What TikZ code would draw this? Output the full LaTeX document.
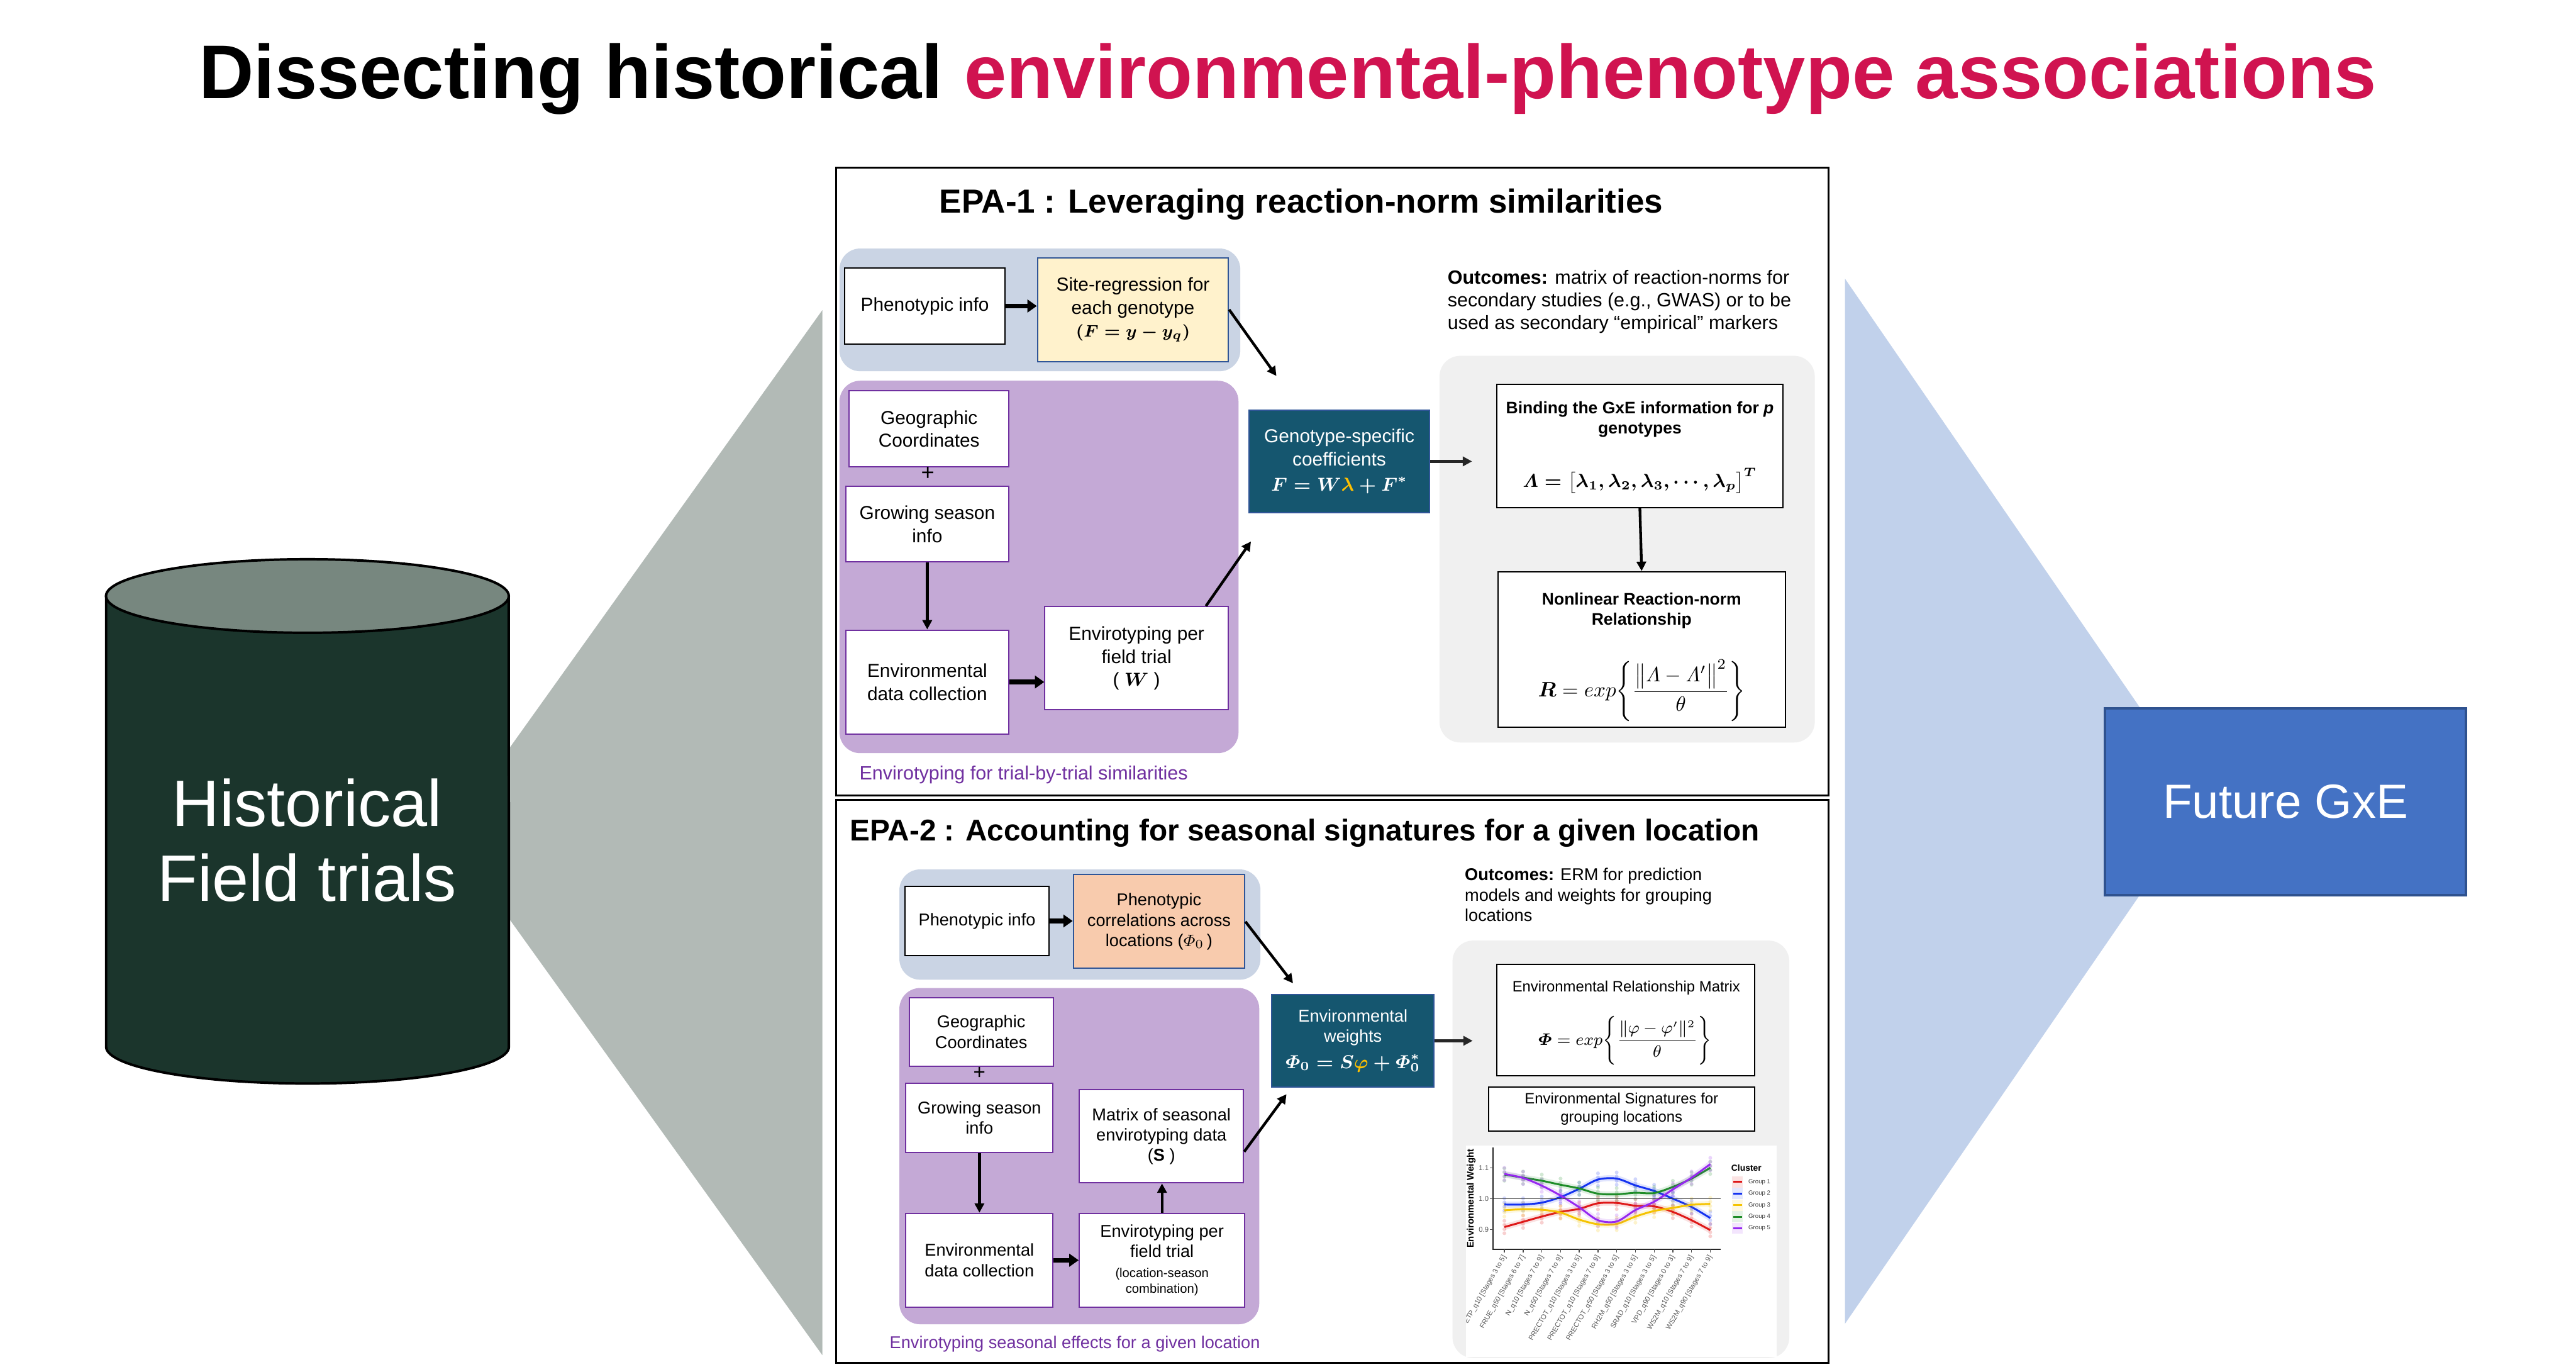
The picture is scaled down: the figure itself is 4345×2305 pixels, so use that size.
\documentclass[tikz,border=0pt]{standalone}
\usepackage{fontspec}
\usepackage{amsmath,amssymb}
\newfontfamily\arial{Liberation Sans}
\usetikzlibrary{arrows.meta,positioning}
\ifdefined\varLambda\else\DeclareMathSymbol{\varLambda}{\mathord}{letters}{"03}\fi
\ifdefined\varPhi\else\DeclareMathSymbol{\varPhi}{\mathord}{letters}{"08}\fi

\definecolor{titlered}{RGB}{208,19,80}
\definecolor{cylbody}{RGB}{27,53,44}
\definecolor{cyltop}{RGB}{119,135,127}
\definecolor{trigray}{RGB}{178,186,182}
\definecolor{triblue}{RGB}{193,209,235}
\definecolor{futblue}{RGB}{68,114,196}
\definecolor{futline}{RGB}{47,82,143}
\definecolor{phenobg}{RGB}{202,212,228}
\definecolor{envbg}{RGB}{196,169,214}
\definecolor{envline}{RGB}{112,48,160}
\definecolor{outbg}{RGB}{240,240,240}
\definecolor{siteyel}{RGB}{255,242,204}
\definecolor{corrpeach}{RGB}{248,203,173}
\definecolor{boxline}{RGB}{47,85,151}
\definecolor{tealbox}{RGB}{21,86,111}
\definecolor{lamgold}{RGB}{255,192,0}
\definecolor{grpA}{RGB}{222,24,24}
\definecolor{grpB}{RGB}{20,50,240}
\definecolor{grpC}{RGB}{245,195,0}
\definecolor{grpD}{RGB}{30,140,40}
\definecolor{grpE}{RGB}{150,40,240}

\begin{document}
\begin{tikzpicture}[
  x=0.01cm, y=-0.01cm,
  sz/.style 2 args={minimum width=#1, minimum height=#2},
  txt/.style={font=\arial\fontsize{9}{11}\selectfont, align=center, inner sep=0pt},
  smalltxt/.style={font=\arial\fontsize{8.2}{9.7}\selectfont, align=center, inner sep=0pt},
  boldtxt/.style={font=\arial\bfseries\fontsize{8}{9.7}\selectfont, align=center, inner sep=0pt},
  epatitle/.style={font=\arial\bfseries\fontsize{16}{19}\selectfont, anchor=base west, inner sep=0pt},
  wbox/.style={draw=black, fill=white, line width=0.6pt},
  pbox/.style={wbox, draw=envline},
  tbox/.style={fill=tealbox, draw=boxline, line width=0.6pt, text=white},
  region/.style={rounded corners=0.35cm},
  panel/.style={draw=black, line width=0.9pt},
  arr/.style={line width=1.3pt, -{Triangle[length=4.5pt, width=4.5pt]}},
  fatarr/.style={line width=2.2pt, -{Triangle[length=4.5pt, width=6pt]}},
  smoothline/.style={draw=#1, line width=0.9pt, preaction={draw=#1, opacity=0.13, line width=0.1cm}},
  tick/.style={font=\arial\fontsize{3.4}{4}\selectfont, text=black!65, inner sep=0.5pt}
]
  \useasboundingbox (0,0) rectangle (4345,2305);
  \fill[white] (0,0) rectangle (4345,2305);

  % Title
  \node[font=\arial\bfseries\fontsize{36.5}{40}\selectfont, anchor=base, inner sep=0pt] (title) at (2172,166)
    {Dissecting historical \textcolor{titlered}{environmental-phenotype associations}};

  % Funnels
  \fill[trigray] (1387,523) -- (756,1406) -- (1387,2285) -- cycle;
  \fill[triblue] (3112,470) -- (3718,1351) -- (3112,2232) -- cycle;

  % Historical data cylinder
  \fill[cylbody] (179,1005) rectangle (858,1765);
  \fill[cylbody] (518.5,1765) ellipse [x radius=3.395cm, y radius=0.62cm];
  \draw[line width=1.2pt] (179,1005) -- (179,1765)
    arc[start angle=180, end angle=360, x radius=3.395cm, y radius=0.62cm] -- (858,1005);
  \fill[cyltop, draw=black, line width=1.2pt] (518.5,1005) ellipse [x radius=3.395cm, y radius=0.62cm];
  \node[font=\arial\fontsize{31.5}{36}\selectfont, text=white, align=center] (hist) at (518,1417)
    {Historical\\Field trials};

  % Future GxE
  \node[draw=futline, line width=1.2pt, fill=futblue, sz={6.08cm}{3.15cm},
    font=\arial\fontsize{23}{26}\selectfont, text=white] (future) at (3855,1352) {Future GxE};

  % Panels
  \draw[panel] (1410,283) rectangle (3084,1341);
  \draw[panel] (1410,1349) rectangle (3084,2298);

  % ---------------- EPA-1 ----------------
  \node[epatitle] (epa1) at (1584,359) {EPA-1 : Leveraging reaction-norm similarities};

  \fill[phenobg, region] (1416,419) rectangle (2092,626);
  \fill[envbg, region] (1416,642) rectangle (2089,1270);
  \fill[outbg, region] (2428,600) rectangle (3061,1252);

  \node[wbox, txt, sz={2.71cm}{1.29cm}] (pheno1) at (1560,516) {Phenotypic info};
  \node[wbox, txt, fill=siteyel, draw=boxline, sz={3.22cm}{1.75cm}] (site1) at (1911,522)
    {Site-regression for\\each genotype\\{\fontsize{8.4}{10}\selectfont\boldmath$(F=y-y_q)$}};
  \node[pbox, txt, sz={2.69cm}{1.29cm}] (geo1) at (1567,723) {Geographic\\Coordinates};
  \node[txt, font=\arial\fontsize{11}{13}\selectfont] (plus1) at (1565,799) {+};
  \node[pbox, txt, sz={2.75cm}{1.27cm}] (grow1) at (1564,884) {Growing season\\info};
  \node[pbox, txt, sz={2.75cm}{1.75cm}] (envd1) at (1564,1150) {Environmental\\data collection};
  \node[pbox, txt, sz={3.09cm}{1.74cm}] (envt1) at (1917,1110)
    {Envirotyping per\\field trial\\( {\boldmath$W$} )};
  \node[tbox, txt, sz={3.05cm}{1.73cm}] (geno1) at (2259,778)
    {Genotype-specific\\coefficients\\[1pt]{\fontsize{9.2}{11}\selectfont\boldmath$F=W\textcolor{lamgold}{\lambda}+F^{*}$}};

  \node[font=\arial\fontsize{9.2}{10.9}\selectfont, align=left, anchor=north west, inner sep=0pt] (out1) at (2441,455)
    {\textbf{Outcomes:} matrix of reaction-norms for\\secondary studies (e.g., GWAS) or to be\\used as secondary “empirical” markers};

  \node[wbox, sz={4.83cm}{2.08cm}] (bind1) at (2766,752) {};
  \node[boldtxt, anchor=north] (bind1t) at (2766,676) {Binding the GxE information for \textit{p}\\genotypes};
  \node[anchor=base, inner sep=0pt] (bind1f) at (2766,822)
    {{\fontsize{8.6}{10}\selectfont\boldmath$\varLambda=\bigl[\lambda_{1},\lambda_{2},\lambda_{3},\mathinner{\cdotp\cdotp\cdotp},\lambda_{p}\bigr]^{T}$}};

  \node[wbox, sz={4.85cm}{2.62cm}] (nonl1) at (2769,1095) {};
  \node[boldtxt, anchor=north] (nonl1t) at (2769,999) {Nonlinear Reaction-norm\\Relationship};
  \node[anchor=base, inner sep=0pt] (nonl1f) at (2769,1175)
    {{\fontsize{9.6}{12}\selectfont$\boldsymbol{R}=exp\Biggl\{\dfrac{\bigl\|\varLambda-\varLambda'\bigr\|^{2}}{\theta}\Biggr\}$}};

  \node[font=\arial\fontsize{9.2}{11}\selectfont, text=envline, anchor=base west, inner sep=0pt] (cap1) at (1449,1315)
    {Envirotyping for trial-by-trial similarities};

  \coordinate (site1to) at (2153,634);
  \coordinate (envt1to) at (2110,913);
  \coordinate (geno1to) at (2483,778);
  \draw[fatarr] (pheno1.east) -- (site1.west |- pheno1.east);
  \draw[arr] (site1.east) -- (site1to);
  \draw[arr] (grow1.south) -- (envd1.north);
  \draw[fatarr] (envd1.east) -- (envd1.east -| envt1.west);
  \draw[arr] ([xshift=1.17cm]envt1.north) -- (envt1to);
  \draw[arr, black!85] (geno1.east) -- (geno1to);
  \draw[arr] (bind1.south) -- (nonl1.north);

  % ---------------- EPA-2 ----------------
  \node[epatitle, font=\arial\bfseries\fontsize{14.4}{17}\selectfont] (epa2) at (1433,1418)
    {EPA-2 : Accounting for seasonal signatures for a given location};

  \fill[phenobg, region] (1517,1466) rectangle (2126,1652);
  \fill[envbg, region] (1517,1666) rectangle (2124,2233);
  \fill[outbg, region] (2450,1586) rectangle (3018,2290);

  \node[wbox, smalltxt, sz={2.42cm}{1.16cm}] (pheno2) at (1648,1553) {Phenotypic info};
  \node[wbox, smalltxt, fill=corrpeach, draw=boxline, sz={2.89cm}{1.58cm}] (corr2) at (1955,1554)
    {Phenotypic\\correlations across\\locations ($\varPhi_{0}$\,)};
  \node[pbox, smalltxt, sz={2.43cm}{1.16cm}] (geo2) at (1655,1740) {Geographic\\Coordinates};
  \node[smalltxt, font=\arial\fontsize{10}{12}\selectfont] (plus2) at (1652,1810) {+};
  \node[pbox, smalltxt, sz={2.48cm}{1.16cm}] (grow2) at (1652,1885) {Growing season\\info};
  \node[pbox, smalltxt, sz={2.77cm}{1.57cm}] (matr2) at (1959,1916)
    {Matrix of seasonal\\envirotyping data\\(\textbf{S} )};
  \node[pbox, smalltxt, sz={2.48cm}{1.58cm}] (envd2) at (1652,2125) {Environmental\\data collection};
  \node[pbox, smalltxt, sz={2.79cm}{1.58cm}] (envt2) at (1960,2125)
    {Envirotyping per\\field trial\\{\fontsize{6.1}{7}\selectfont(location-season}\\[-2pt]{\fontsize{6.1}{7}\selectfont combination)}};
  \node[tbox, smalltxt, sz={2.74cm}{1.56cm}] (wts2) at (2282,1755)
    {Environmental\\weights\\[3pt]{\fontsize{9.2}{11}\selectfont\boldmath$\varPhi_{0}=S\textcolor{lamgold}{\varphi}+\varPhi_{0}^{*}$}};

  \node[font=\arial\fontsize{8.2}{9.8}\selectfont, align=left, anchor=north west, inner sep=0pt] (out2) at (2470,1463)
    {\textbf{Outcomes:} ERM for prediction\\models and weights for grouping\\locations};

  \node[wbox, sz={4.34cm}{1.87cm}] (erm2) at (2742,1720) {};
  \node[font=\arial\fontsize{7.2}{8.8}\selectfont, anchor=base, inner sep=0pt] (erm2t) at (2743,1672)
    {Environmental Relationship Matrix};
  \node[anchor=base, inner sep=0pt] (erm2f) at (2741,1762)
    {{\fontsize{7.8}{10}\selectfont$\boldsymbol{\varPhi}=exp\Biggl\{\dfrac{\|\varphi-\varphi'\|^{2}}{\theta}\Biggr\}$}};
  \node[wbox, font=\arial\fontsize{7.2}{8.8}\selectfont, align=center, inner sep=0pt, sz={4.49cm}{0.74cm}] (sig2) at (2735,1870)
    {Environmental Signatures for\\grouping locations};

  \node[font=\arial\fontsize{8.2}{10}\selectfont, text=envline, anchor=base west, inner sep=0pt] (cap2) at (1500,2274)
    {Envirotyping seasonal effects for a given location};

  \coordinate (corr2to) at (2181,1658);
  \coordinate (matr2to) at (2170,1845);
  \coordinate (wts2to) at (2484,1755);
  \draw[fatarr] (pheno2.east) -- (pheno2.east -| corr2.west);
  \draw[arr] (corr2.east) -- (corr2to);
  \draw[arr] (grow2.south) -- (envd2.north);
  \draw[fatarr] (envd2.east) -- (envd2.east -| envt2.west);
  \draw[arr] (envt2.north) -- (envt2.north |- matr2.south);
  \draw[arr] ([yshift=-0.26cm]matr2.east) -- (matr2to);
  \draw[arr, black!85] (wts2.east) -- (wts2to);

  % Environmental weight chart
  \fill[white] (2473,1932) rectangle (2997,2288);
  \begin{scope}
    \clip (2473,1932) rectangle (2997,2288);
    \begin{scope}[shift={(25.0445cm,-25.40cm)}, x=0.3155cm, y=5.2cm]
      % points
      \foreach \col/\vals in {
        grpA/{0.908,0.925,0.942,0.957,0.967,0.985,0.986,0.977,0.975,0.957,0.930,0.898},
        grpB/{0.981,0.981,0.987,1.005,1.032,1.062,1.065,1.043,1.025,1.000,0.973,0.937},
        grpC/{0.962,0.966,0.964,0.955,0.932,0.917,0.918,0.942,0.960,0.970,0.980,0.983},
        grpD/{1.078,1.068,1.058,1.045,1.033,1.016,1.014,1.019,1.018,1.038,1.065,1.100},
        grpE/{1.080,1.067,1.042,1.010,0.972,0.930,0.926,0.963,0.990,1.030,1.068,1.112}} {
        \foreach \v [count=\i] in \vals {
          \foreach \d in {-0.02,-0.007,0.007,0.02}
            \fill[\col, opacity=0.2] (\i,{\v+\d}) circle[radius=0.032cm];
        }
      }
      % smoothed curves
      \draw[smoothline=grpA] plot[smooth] coordinates {(1,0.908) (2,0.925) (3,0.942) (4,0.957) (5,0.967) (6,0.985) (7,0.986) (8,0.977) (9,0.975) (10,0.957) (11,0.930) (12,0.898)};
      \draw[smoothline=grpB] plot[smooth] coordinates {(1,0.981) (2,0.981) (3,0.987) (4,1.005) (5,1.032) (6,1.062) (7,1.065) (8,1.043) (9,1.025) (10,1.000) (11,0.973) (12,0.937)};
      \draw[smoothline=grpC] plot[smooth] coordinates {(1,0.962) (2,0.966) (3,0.964) (4,0.955) (5,0.932) (6,0.917) (7,0.918) (8,0.942) (9,0.960) (10,0.970) (11,0.980) (12,0.983)};
      \draw[smoothline=grpD] plot[smooth] coordinates {(1,1.078) (2,1.068) (3,1.058) (4,1.045) (5,1.033) (6,1.016) (7,1.014) (8,1.019) (9,1.018) (10,1.038) (11,1.065) (12,1.100)};
      \draw[smoothline=grpE] plot[smooth] coordinates {(1,1.080) (2,1.067) (3,1.042) (4,1.010) (5,0.972) (6,0.930) (7,0.926) (8,0.963) (9,0.990) (10,1.030) (11,1.068) (12,1.112)};

      % axes
      \draw[black!75, line width=0.5pt] (0.4,1.0) -- (12.57,1.0);
      \draw[black!85, line width=0.6pt] (0.4,1.165) -- (0.4,0.835) -- (12.57,0.835);
      \foreach \t [count=\k] in {0.9,1.0,1.1} {
        \draw[black!70, line width=0.4pt] (0.24,\t) -- (0.4,\t);
        \node[tick, anchor=east] (ytick\k) at (0.24,\t) {\t};
      }
      \node[font=\arial\bfseries\fontsize{4.5}{5}\selectfont, rotate=90, inner sep=0pt] (ylab) at (-0.775,1.0)
        {Environmental Weight};
      \foreach \lab [count=\i] in {ETP\_q10 [Stages 3 to 5], FRUE\_q50 [Stages 6 to 7], N\_q10 [Stages 7 to 9],
        N\_q50 [Stages 7 to 9], PRECTOT\_q10 [Stages 3 to 5], PRECTOT\_q10 [Stages 7 to 9],
        PRECTOT\_q50 [Stages 3 to 5], RH2M\_q50 [Stages 3 to 5], SRAD\_q10 [Stages 3 to 5],
        VPD\_q90 [Stages 0 to 3], WS2M\_q10 [Stages 7 to 9], WS2M\_q90 [Stages 7 to 9]} {
        \draw[black!70, line width=0.4pt] (\i,0.835) -- (\i,0.825);
        \node[tick, rotate=60, anchor=east] (xlab\i) at (\i+0.05,0.818) {\lab};
      }

      % legend
      \node[font=\arial\bfseries\fontsize{4.2}{5}\selectfont, anchor=west, inner sep=0pt] (legt) at (13.1,1.1) {Cluster};
      \foreach \col [count=\k] in {grpA,grpB,grpC,grpD,grpE} {
        \fill[\col!12] (13.17,{1.054-0.0375*(\k-1)-0.018}) rectangle (13.74,{1.054-0.0375*(\k-1)+0.018});
        \draw[\col, line width=0.9pt] (13.22,{1.054-0.0375*(\k-1)}) -- (13.69,{1.054-0.0375*(\k-1)});
        \node[font=\arial\fontsize{2.9}{3.5}\selectfont, text=black!75, anchor=west, inner sep=0pt] (leg\k)
          at (14.02,{1.054-0.0375*(\k-1)}) {Group \k};
      }
    \end{scope}
  \end{scope}
\end{tikzpicture}
\end{document}
